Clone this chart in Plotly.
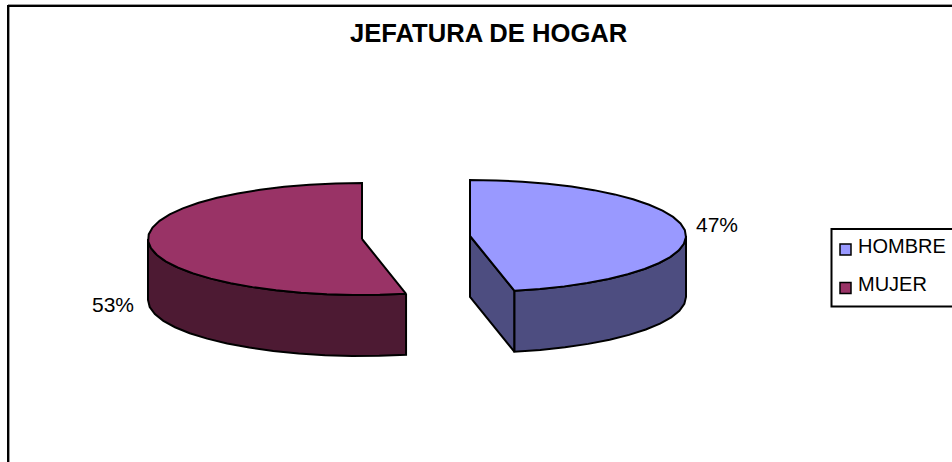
import numpy as np
import plotly.graph_objects as go

categories = ["HOMBRE", "MUJER"]
shares = [46.7, 53.3]
top_colors = ["#9999FF", "#993366"]
wall_colors = ["#4D4D80", "#4D1A33"]

# pie projection in page pixels
RX = {"HOMBRE": 216, "MUJER": 214}
RY, DEPTH = 56, 61
CENTERS = {"HOMBRE": (470, 236), "MUJER": (362, 239)}
STEP = 7  # degrees, the source has coarse facets

angle_hombre = 360 * shares[0] / sum(shares)


def arc(name, a0, a1, dy=0):
    center = CENTERS[name]
    n = max(2, int(abs(a1 - a0) / STEP) + 1)
    a = np.radians(np.linspace(a0, a1, n))
    return center[0] + RX[name] * np.sin(a), center[1] - RY * np.cos(a) + dy


def add_poly(fig, x, y, color):
    fig.add_trace(go.Scatter(
        x=np.append(x, x[0]), y=np.append(y, y[0]), mode="lines", fill="toself",
        fillcolor=color, line=dict(color="black", width=2), showlegend=False,
        hoverinfo="skip"))


fig = go.Figure()

# HOMBRE
c = CENTERS["HOMBRE"]
ex, ey = arc("HOMBRE", angle_hombre, angle_hombre)
add_poly(fig, np.array([c[0], ex[0], ex[0], c[0]]),
         np.array([c[1], ey[0], ey[0] + DEPTH, c[1] + DEPTH]), wall_colors[0])
x1, y1 = arc("HOMBRE", 90, angle_hombre)
x2, y2 = arc("HOMBRE", angle_hombre, 90, DEPTH)
add_poly(fig, np.r_[x1, x2], np.r_[y1, y2], wall_colors[0])
x1, y1 = arc("HOMBRE", 0, angle_hombre)
add_poly(fig, np.r_[c[0], x1], np.r_[c[1], y1], top_colors[0])

# MUJER
c = CENTERS["MUJER"]
x1, y1 = arc("MUJER", angle_hombre, 270)
x2, y2 = arc("MUJER", 270, angle_hombre, DEPTH)
add_poly(fig, np.r_[x1, x2], np.r_[y1, y2], wall_colors[1])
x1, y1 = arc("MUJER", angle_hombre, 360)
add_poly(fig, np.r_[c[0], x1], np.r_[c[1], y1], top_colors[1])

# legend swatches (legend drawn by hand: the box runs off the right edge)
fig.add_trace(go.Scatter(
    x=[845.5, 845.5], y=[249.5, 288], mode="markers", showlegend=False, hoverinfo="skip",
    marker=dict(symbol="square", size=11, color=top_colors,
                line=dict(color="black", width=1.5))))

frame_black = dict(color="black", width=2)
frame_grey = dict(color="#9a9a9a", width=1)
shapes = [
    dict(type="line", xref="paper", yref="paper", x0=8 / 952, x1=1, y0=1 - 4.5 / 462, y1=1 - 4.5 / 462, line=frame_grey),
    dict(type="line", xref="paper", yref="paper", x0=9.5 / 952, x1=9.5 / 952, y0=0, y1=1 - 6 / 462, line=frame_grey),
    dict(type="line", xref="paper", yref="paper", x0=7 / 952, x1=1, y0=1 - 6 / 462, y1=1 - 6 / 462, line=frame_black),
    dict(type="line", xref="paper", yref="paper", x0=8 / 952, x1=8 / 952, y0=0, y1=1 - 5 / 462, line=frame_black),
    dict(type="rect", xref="x", yref="y", x0=831.5, x1=960, y0=229, y1=306.5,
         line=dict(color="black", width=2), fillcolor="white", layer="below"),
]

font = dict(color="black", family="Liberation Sans")
annotations = [
    dict(x=488.5 / 952, y=1 - 33 / 462, xref="paper", yref="paper", text="<b>JEFATURA DE HOGAR</b>",
         xanchor="center", yanchor="middle", showarrow=False, font=dict(size=25.6, **font)),
    dict(x=717 / 952, y=1 - 224 / 462, xref="paper", yref="paper", text=f"{round(shares[0])}%",
         xanchor="center", yanchor="middle", showarrow=False, font=dict(size=21, **font)),
    dict(x=113 / 952, y=1 - 304 / 462, xref="paper", yref="paper", text=f"{round(shares[1])}%",
         xanchor="center", yanchor="middle", showarrow=False, font=dict(size=21, **font)),
    dict(x=858 / 952, y=1 - 246 / 462, xref="paper", yref="paper", text=categories[0],
         xanchor="left", yanchor="middle", showarrow=False, xshift=-2, font=dict(size=20, **font)),
    dict(x=858 / 952, y=1 - 284 / 462, xref="paper", yref="paper", text=categories[1],
         xanchor="left", yanchor="middle", showarrow=False, xshift=-2, font=dict(size=20, **font)),
]

fig.update_layout(
    width=952, height=462, margin=dict(l=0, r=0, t=0, b=0, autoexpand=False),
    paper_bgcolor="white", plot_bgcolor="white", showlegend=False,
    xaxis=dict(range=[0, 952], visible=False, fixedrange=True),
    yaxis=dict(range=[462, 0], visible=False, fixedrange=True),
    shapes=shapes, annotations=annotations,
)
fig.write_html("out.html", config={"displayModeBar": False},
               post_script="document.body.style.margin='0';document.documentElement.style.overflow='hidden';")
